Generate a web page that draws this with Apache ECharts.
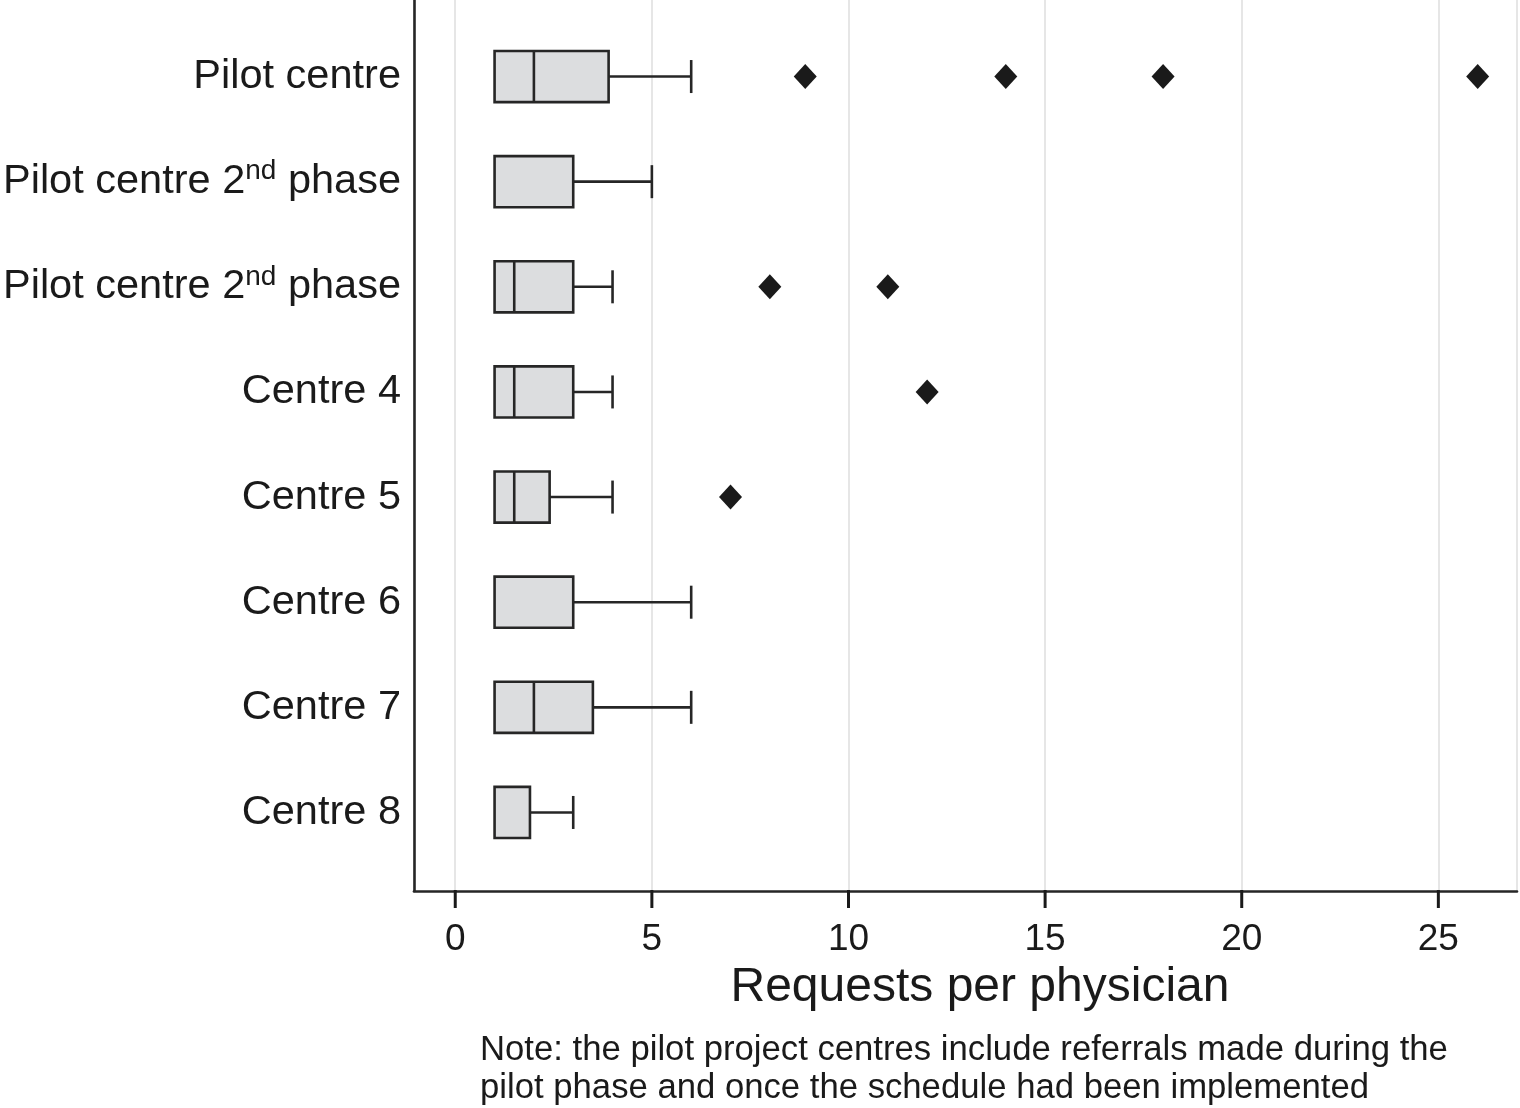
<!DOCTYPE html>
<html>
<head>
<meta charset="utf-8">
<style>
html,body{margin:0;padding:0;background:#fff;}
#chart{width:1520px;height:1108px;}
</style>
<script src="https://cdn.jsdelivr.net/npm/echarts@6/dist/echarts.min.js"></script>
</head>
<body>
<div id="chart"></div>
<script>
const categories = ['Pilot centre', 'Pilot centre 2nd phase', 'Pilot centre 2nd phase', 'Centre 4', 'Centre 5', 'Centre 6', 'Centre 7', 'Centre 8'];
const whiskerLow = [1, 1, 1, 1, 1, 1, 1, 1];
const q1 = [1, 1, 1, 1, 1, 1, 1, 1];
const median = [2, 1, 1.5, 1.5, 1.5, 1, 2, 1];
const q3 = [3.9, 3, 3, 3, 2.4, 3, 3.5, 1.9];
const whiskerHigh = [6, 5, 4, 4, 4, 6, 6, 3];
const outlierRow = [0, 0, 0, 0, 2, 2, 3, 4];
const outlierValue = [8.9, 14, 18, 26, 8, 11, 12, 7];
const xTickLabels = [0, 5, 10, 15, 20, 25];
const xTitle = 'Requests per physician';
const noteText = 'Note: the pilot project centres include referrals made during the\npilot phase and once the schedule had been implemented';

const FONT = 'Liberation Sans, Arial, Helvetica, sans-serif';
const INK = '#262626';
const X_MIN = -1.05, X_MAX = 27, Y_MIN = -0.728, Y_MAX = 7.747;

const boxData = categories.map((c, i) => [i, whiskerLow[i], q1[i], median[i], q3[i], whiskerHigh[i]]);
const outlierData = outlierValue.map((v, i) => [v, outlierRow[i]]);

function labelText(c) {
  if (c.indexOf('2nd') >= 0) {
    const parts = c.split('2nd');
    return '{n|' + parts[0] + '2}{sup|nd}{n|' + parts[1] + '}';
  }
  return '{n|' + c + '}';
}

function renderBox(params, api) {
  const idx = api.value(0);
  const lo = api.value(1), a = api.value(2), m = api.value(3), b = api.value(4), hi = api.value(5);
  const halfH = api.size([0, 0.243])[1];
  const capH = api.size([0, 0.157])[1];
  const pLo = api.coord([lo, idx]);
  const pA = api.coord([a, idx]);
  const pM = api.coord([m, idx]);
  const pB = api.coord([b, idx]);
  const pHi = api.coord([hi, idx]);
  const y = pA[1];
  const st = { stroke: INK, lineWidth: 2.6, fill: null };
  const children = [];
  if (hi > b) {
    children.push({ type: 'line', shape: { x1: pB[0], y1: y, x2: pHi[0], y2: y }, style: st });
    children.push({ type: 'line', shape: { x1: pHi[0], y1: y - capH, x2: pHi[0], y2: y + capH }, style: st });
  }
  if (lo < a) {
    children.push({ type: 'line', shape: { x1: pLo[0], y1: y, x2: pA[0], y2: y }, style: st });
    children.push({ type: 'line', shape: { x1: pLo[0], y1: y - capH, x2: pLo[0], y2: y + capH }, style: st });
  }
  children.push({ type: 'rect', shape: { x: pA[0], y: y - halfH, width: pB[0] - pA[0], height: 2 * halfH },
    style: { fill: '#dcdddf', stroke: INK, lineWidth: 2.6 } });
  if (m > a && m < b) {
    children.push({ type: 'line', shape: { x1: pM[0], y1: y - halfH, x2: pM[0], y2: y + halfH }, style: st });
  }
  return { type: 'group', children: children };
}

const chart = echarts.init(document.getElementById('chart'));
chart.setOption({
  backgroundColor: '#ffffff',
  animation: false,
  title: {
    text: noteText,
    left: 480,
    top: 1031,
    padding: 0,
    textStyle: { fontFamily: FONT, fontSize: 34.7, fontWeight: 'normal', color: '#1a1a1a', lineHeight: 38 }
  },
  grid: { left: 413, right: 0, top: 0, bottom: 217, containLabel: false },
  xAxis: {
    type: 'value',
    min: X_MIN,
    max: X_MAX,
    splitNumber: 5,
    name: xTitle,
    nameLocation: 'middle',
    nameGap: 97,
    nameTextStyle: { fontFamily: FONT, fontSize: 48, color: '#1a1a1a', verticalAlign: 'middle', padding: [0, 0, 0, 29] },
    axisLine: { show: true, onZero: false, lineStyle: { color: INK, width: 2.6 } },
    axisTick: { show: false },
    axisLabel: {
      margin: 30,
      fontFamily: FONT, fontSize: 37, color: '#1a1a1a',
      formatter: function (v) { return xTickLabels.indexOf(v) >= 0 ? String(v) : ''; }
    },
    splitLine: { show: true, lineStyle: { color: '#e6e6e6', width: 2 } }
  },
  yAxis: {
    type: 'value',
    inverse: true,
    min: Y_MIN,
    max: Y_MAX,
    splitNumber: 8,
    axisLine: { show: true, onZero: false, lineStyle: { color: INK, width: 2.6 } },
    axisTick: { show: false },
    splitLine: { show: false },
    axisLabel: {
      margin: 13,
      formatter: function (v) {
        if (Math.abs(v - Math.round(v)) < 1e-6 && v >= 0 && v < categories.length) {
          return labelText(categories[Math.round(v)]);
        }
        return '';
      },
      rich: {
        n: { fontFamily: FONT, fontSize: 41.5, color: '#1a1a1a', lineHeight: 48 },
        sup: { fontFamily: FONT, fontSize: 28, color: '#1a1a1a', lineHeight: 18, verticalAlign: 'top' }
      }
    }
  },
  series: [
    {
      type: 'custom',
      renderItem: renderBox,
      data: boxData,
      encode: { x: [1, 2, 3, 4, 5], y: 0 },
      z: 3
    },
    {
      type: 'scatter',
      data: outlierData,
      symbol: 'diamond',
      symbolSize: [23, 25],
      itemStyle: { color: '#1a1a1a', opacity: 1 },
      z: 4
    }
  ]
});

// x-axis tick marks, positioned through the axis scale
const tickGraphics = xTickLabels.map(function (v) {
  const p = chart.convertToPixel({ gridIndex: 0 }, [v, Y_MAX]);
  return {
    type: 'line', z: 100,
    shape: { x1: p[0], y1: p[1] - 1, x2: p[0], y2: p[1] + 17 },
    style: { stroke: '#1a1a1a', lineWidth: 3 }
  };
});
chart.setOption({ graphic: tickGraphics });
</script>
</body>
</html>
